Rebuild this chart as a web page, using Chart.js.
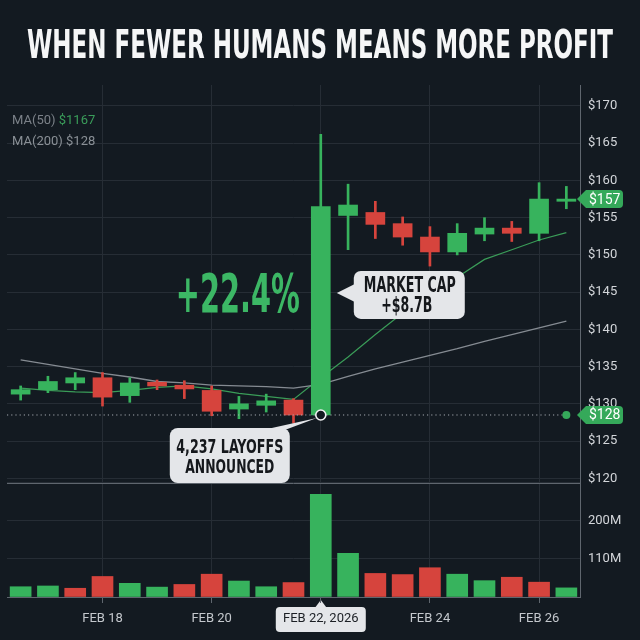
<!DOCTYPE html>
<html>
<head>
<meta charset="utf-8">
<script src="https://cdn.jsdelivr.net/npm/chart.js@4.4.1/dist/chart.umd.min.js"></script>
<style>
  html, body { margin: 0; padding: 0; background: #131a21; }
  #wrap { position: relative; width: 640px; height: 640px; overflow: hidden; }
  canvas { position: absolute; left: 0; top: 0; }
</style>
</head>
<body>
<div id="wrap">
  <canvas id="stockChart" width="640" height="640"></canvas>
</div>
<script>
const title = 'WHEN FEWER HUMANS MEANS MORE PROFIT';

// candles (one every half day)
const categories = ['', '', '', 'FEB 18', '', '', '', 'FEB 20', '', '', '', 'FEB 22, 2026',
                    '', '', '', 'FEB 24', '', '', '', 'FEB 26', ''];
const opens  = [131.3, 131.9, 132.8, 133.5, 131.1, 132.9, 132.5, 131.8, 129.3, 129.8, 130.5,
                128.5, 155.3, 155.7, 154.2, 152.4, 150.4, 152.8, 153.6, 152.9, 157.2];
const highs  = [132.4, 133.7, 134.2, 134.2, 133.5, 133.2, 133.1, 132.4, 131.0, 131.3, 130.7,
                166.2, 159.5, 157.2, 155.1, 153.8, 154.2, 155.0, 154.5, 159.7, 159.2];
const lows   = [130.5, 131.5, 131.9, 129.7, 130.2, 131.9, 130.7, 128.4, 128.0, 128.9, 127.4,
                128.3, 150.7, 152.2, 151.3, 148.5, 150.0, 151.9, 151.8, 151.9, 156.2];
const closes = [131.9, 133.0, 133.5, 130.9, 132.8, 132.4, 132.0, 129.0, 130.0, 130.4, 128.5,
                156.5, 156.7, 154.1, 152.4, 150.4, 152.9, 153.6, 152.9, 157.5, 157.5];
const ma50   = [132.1, 131.8, 131.6, 131.5, 131.8, 132.2, 132.4, 132.0, 131.4, 131.0, 130.6,
                133.5, 136.3, 139.3, 142.2, 144.6, 147.0, 149.4, 150.7, 152.0, 153.0];
const ma200  = [135.9, 135.3, 134.7, 134.1, 133.6, 133.0, 132.8, 132.5, 132.4, 132.3, 132.1,
                132.6, 133.7, 134.7, 135.6, 136.5, 137.4, 138.4, 139.3, 140.2, 141.1];
const volumes  = [27, 29, 23, 54, 36, 26, 33, 60, 42, 27, 38, 270, 115, 62, 59, 77, 60, 43, 52, 39, 24];
const volumeUp = [1, 1, 0, 0, 1, 1, 0, 0, 1, 1, 0, 1, 1, 0, 0, 0, 1, 1, 0, 0, 1];

const priceTicks = [120, 125, 130, 135, 140, 145, 150, 155, 160, 165, 170];
const volTickValues = [0, 100, 200, 300];
const volTickLabels = ['', '110M', '200M', ''];

const eventIndex = 11;
const refPrice = 128.5, refLabel = '$128';
const lastLabel = '$157';
const maLegend = [['MA(50)', '$1167'], ['MA(200)', '$128']];

const GREEN = '#37b35d', RED = '#d6443d', GRID = '#262d35', AXIS = '#5f666e';
const candleColors = opens.map((o, i) => closes[i] >= o ? GREEN : RED);
const volColors = volumeUp.map(u => u ? GREEN : RED);

// squeeze a bold narrow font to the condensed look of the original
function fitText(ctx, text, x, y, size, width, color) {
  ctx.save();
  ctx.font = 'bold ' + size + 'px "Liberation Sans Narrow", "DejaVu Sans Condensed", sans-serif';
  const w = ctx.measureText(text).width;
  const k = width / w;
  ctx.translate(x, y);
  ctx.scale(k, 1);
  ctx.fillStyle = color;
  ctx.textAlign = 'center';
  ctx.textBaseline = 'alphabetic';
  ctx.fillText(text, 0, 0);
  ctx.restore();
}

function priceTag(ctx, xTip, y, text) {
  ctx.save();
  ctx.fillStyle = '#35a95a';
  ctx.beginPath();
  ctx.moveTo(xTip, y);
  ctx.lineTo(xTip + 9, y - 9);
  ctx.lineTo(xTip + 42, y - 9);
  ctx.quadraticCurveTo(xTip + 46, y - 9, xTip + 46, y - 5);
  ctx.lineTo(xTip + 46, y + 5);
  ctx.quadraticCurveTo(xTip + 46, y + 9, xTip + 42, y + 9);
  ctx.lineTo(xTip + 9, y + 9);
  ctx.closePath();
  ctx.fill();
  ctx.fillStyle = '#ffffff';
  ctx.font = '14px Roboto, sans-serif';
  ctx.textAlign = 'left';
  ctx.textBaseline = 'middle';
  ctx.fillText(text, xTip + 12, y + 1);
  ctx.restore();
}

const overlay = {
  id: 'overlay',
  beforeDraw(chart) {
    const ctx = chart.ctx, x = chart.scales.x;
    const cx = x.getPixelForValue(eventIndex), top = x.top;
    ctx.save();
    ctx.fillStyle = '#e4e6e9';
    ctx.beginPath();
    ctx.roundRect(cx - 45, top + 10, 90, 25, 4);
    ctx.fill();
    ctx.beginPath();
    ctx.moveTo(cx - 6, top + 11);
    ctx.lineTo(cx, top + 3);
    ctx.lineTo(cx + 6, top + 11);
    ctx.fill();
    ctx.restore();
  },
  afterDraw(chart) {
    const ctx = chart.ctx, x = chart.scales.x, y = chart.scales.y, area = chart.chartArea;
    const xBig = x.getPixelForValue(eventIndex);
    const xLast = x.getPixelForValue(categories.length - 1);
    const yRef = y.getPixelForValue(refPrice);
    ctx.save();

    // title
    fitText(ctx, title, chart.width / 2, 58, 39, 586, '#f5f6f7');

    // panel separator
    ctx.strokeStyle = AXIS;
    ctx.lineWidth = 1;
    ctx.beginPath();
    ctx.moveTo(area.left, Math.round(y.bottom) + 0.5);
    ctx.lineTo(area.right, Math.round(y.bottom) + 0.5);
    ctx.stroke();

    // dotted reference line at the pre-jump price
    ctx.strokeStyle = '#a3a9af';
    ctx.setLineDash([1.2, 3]);
    ctx.beginPath();
    ctx.moveTo(area.left, yRef);
    ctx.lineTo(xLast, yRef);
    ctx.stroke();
    ctx.setLineDash([]);
    ctx.fillStyle = '#35a95a';
    ctx.beginPath();
    ctx.arc(xLast, yRef, 4, 0, Math.PI * 2);
    ctx.fill();

    // marker at the open of the jump candle
    ctx.beginPath();
    ctx.arc(xBig, yRef, 5, 0, Math.PI * 2);
    ctx.fillStyle = '#131a21';
    ctx.fill();
    ctx.strokeStyle = '#f2f3f4';
    ctx.lineWidth = 1.6;
    ctx.stroke();

    // price tags on the axis
    priceTag(ctx, area.right - 3, yRef, refLabel);
    priceTag(ctx, area.right - 3, y.getPixelForValue(closes[closes.length - 1]), lastLabel);

    // moving average legend
    ctx.font = '13px Roboto, sans-serif';
    ctx.textAlign = 'left';
    ctx.textBaseline = 'alphabetic';
    ctx.fillStyle = '#7b8188';
    ctx.fillText(maLegend[0][0], area.left + 5, area.top + 39);
    ctx.fillStyle = '#3a9d5a';
    ctx.fillText(maLegend[0][1], area.left + 5 + ctx.measureText(maLegend[0][0] + ' ').width, area.top + 39);
    ctx.fillStyle = '#8a9096';
    ctx.fillText(maLegend[1][0] + ' ' + maLegend[1][1], area.left + 5, area.top + 60);

    // +22.4% headline
    fitText(ctx, '+22.4%', xBig - 83, y.getPixelForValue(142.3), 54, 124, '#3cb765');

    // market cap callout
    const yCap = y.getPixelForValue(144.9);
    ctx.fillStyle = '#e4e6e9';
    ctx.beginPath();
    ctx.roundRect(xBig + 33, yCap - 22, 111, 48, 7);
    ctx.fill();
    ctx.beginPath();
    ctx.moveTo(xBig + 34, yCap - 9);
    ctx.lineTo(xBig + 16, yCap);
    ctx.lineTo(xBig + 34, yCap + 9);
    ctx.fill();
    fitText(ctx, 'MARKET CAP', xBig + 89, yCap - 1, 21, 92, '#15181c');
    fitText(ctx, '+$8.7B', xBig + 86, yCap + 19, 21, 51, '#15181c');

    // layoffs callout
    ctx.fillStyle = '#e4e6e9';
    ctx.beginPath();
    ctx.roundRect(xBig - 151, yRef + 13, 120, 55, 8);
    ctx.fill();
    ctx.beginPath();
    ctx.moveTo(xBig - 58, yRef + 15);
    ctx.lineTo(xBig - 4, yRef + 3);
    ctx.lineTo(xBig - 36, yRef + 15);
    ctx.fill();
    fitText(ctx, '4,237 LAYOFFS', xBig - 91, yRef + 38, 19, 107, '#15181c');
    fitText(ctx, 'ANNOUNCED', xBig - 91, yRef + 58, 19, 89, '#15181c');

    ctx.restore();
  }
};

const ctx = document.getElementById('stockChart').getContext('2d');
new Chart(ctx, {
  type: 'bar',
  data: {
    labels: categories,
    datasets: [
      { type: 'line', data: ma200, borderColor: '#858b92', borderWidth: 1.3, pointRadius: 0, yAxisID: 'y', order: 3 },
      { type: 'line', data: ma50, borderColor: '#3a9c58', borderWidth: 1.2, pointRadius: 0, yAxisID: 'y', order: 3 },
      { data: lows.map((l, i) => [l, highs[i]]), backgroundColor: candleColors, barThickness: 2, grouped: false, yAxisID: 'y', order: 2 },
      { data: opens.map((o, i) => [o, closes[i]]), backgroundColor: candleColors, barThickness: 19, grouped: false, yAxisID: 'y', order: 1 },
      { data: volumes, backgroundColor: volColors, barThickness: 21, grouped: false, yAxisID: 'yVol', order: 1 }
    ]
  },
  options: {
    responsive: false,
    animation: false,
    layout: { padding: { top: 85, left: 7, right: 0, bottom: 0 } },
    plugins: { legend: { display: false }, tooltip: { enabled: false } },
    scales: {
      x: {
        type: 'category',
        offset: true,
        grid: { color: GRID, offset: false, tickLength: 6, tickColor: AXIS },
        border: { color: AXIS },
        ticks: {
          autoSkip: false, maxRotation: 0, padding: 8,
          font: { family: 'Roboto', size: 13 },
          color: c => (c.tick && c.tick.value === eventIndex) ? '#1b1f24' : '#c4c8cd'
        },
        afterBuildTicks: s => { s.ticks = s.ticks.filter(t => categories[t.value] !== ''); },
        afterFit: s => { s.height = 43; }
      },
      y: {
        position: 'right',
        stack: 'main',
        stackWeight: 3.49,
        min: 119.37,
        max: 172.82,
        grid: { color: GRID, drawTicks: false },
        border: { color: AXIS },
        ticks: {
          padding: 8, color: '#d3d6da', font: { family: 'Roboto', size: 13 },
          callback: v => '$' + v
        },
        afterBuildTicks: s => { s.ticks = priceTicks.map(v => ({ value: v })); },
        afterFit: s => { s.width = 60; }
      },
      yVol: {
        position: 'right',
        stack: 'main',
        stackWeight: 1,
        min: 0,
        max: 300,
        grid: { color: GRID, drawTicks: false },
        border: { color: AXIS },
        ticks: {
          padding: 8, color: '#d3d6da', font: { family: 'Roboto', size: 13 },
          callback: v => volTickLabels[volTickValues.indexOf(v)] || ''
        },
        afterBuildTicks: s => { s.ticks = volTickValues.map(v => ({ value: v })); },
        afterFit: s => { s.width = 60; }
      }
    }
  },
  plugins: [overlay]
});
</script>
</body>
</html>
